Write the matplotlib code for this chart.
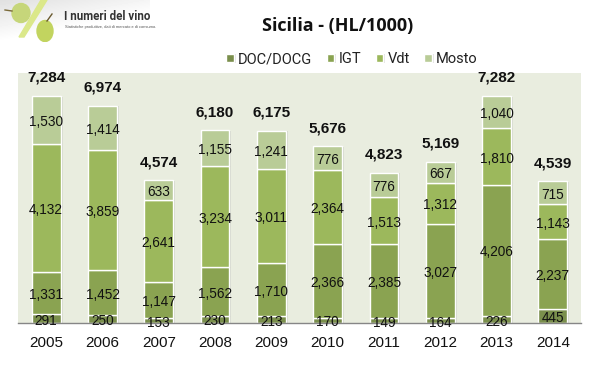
"""
Sicilia wine production by category, stacked bars with the logo header.
"""
import numpy as np
import matplotlib
matplotlib.use("Agg")
import matplotlib.pyplot as plt
import matplotlib.patheffects as pe
from matplotlib.patches import Ellipse, Polygon

years = ["2005", "2006", "2007", "2008", "2009", "2010", "2011", "2012", "2013", "2014"]
doc = [291, 250, 153, 230, 213, 170, 149, 164, 226, 445]
igt = [1331, 1452, 1147, 1562, 1710, 2366, 2385, 3027, 4206, 2237]
vdt = [4132, 3859, 2641, 3234, 3011, 2364, 1513, 1312, 1810, 1143]
mosto = [1530, 1414, 633, 1155, 1241, 776, 776, 667, 1040, 715]
totals = [7284, 6974, 4574, 6180, 6175, 5676, 4823, 5169, 7282, 4539]
series_names = ["DOC/DOCG", "IGT", "Vdt", "Mosto"]
colors = ["#7a8f4c", "#8aa351", "#9cb85c", "#b9cc97"]

W, H = 599, 379
plt.rcParams["font.family"] = ["Liberation Sans", "DejaVu Sans"]
fig = plt.figure(figsize=(W/100, H/100), dpi=100, facecolor="white")

## Plot area in pixels: x 18-581, y 73-323
ax = fig.add_axes([18/W, 1 - 323/H, 563/W, 250/H])
ax.set_facecolor("#e9eddf")
ax.set_xlim(-0.5, 9.5)
ax.set_ylim(0, 8020)
x = np.arange(len(years))

bottom = np.zeros(len(years))
for name, vals, col in zip(series_names, [doc, igt, vdt, mosto], colors):
    vals = np.array(vals)
    bars = ax.bar(x, vals, 0.51, bottom=bottom, color=col, edgecolor="white",
                  linewidth=1, label=name)
    for b in bars:
        b.set_path_effects([pe.withSimplePatchShadow(offset=(1.5, -0.5), alpha=0.2,
                                                     shadow_rgbFace="#777777")])
    for xi, v, b0 in zip(x, vals, bottom):
        ax.annotate(f"{v:,}", (xi, b0 + v/2), xytext=(0, -1.5), textcoords="offset points",
                    ha="center", va="center", fontsize=9.8, color="#111111", zorder=5,
                    annotation_clip=False)
    bottom = bottom + vals

for xi, b0, t in zip(x, bottom, totals):
    ax.annotate(f"{t:,}", (xi, b0), xytext=(0, 13), textcoords="offset points",
                ha="center", va="center", fontsize=11, fontweight="bold", color="#111111",
                zorder=5, annotation_clip=False)

for s in ["top", "left", "right"]:
    ax.spines[s].set_visible(False)
ax.spines["bottom"].set_color("#868686")
ax.spines["bottom"].set_linewidth(1)
ax.set_yticks([])
ax.set_xticks(x)
ax.set_xticklabels(years, fontsize=11, color="#111111")
ax.tick_params(axis="x", length=0, pad=9.5)

fig.text(338/W, 1 - 26/H, "Sicilia - (HL/1000)", ha="center", va="center",
         fontsize=13, fontweight="bold", family=["Open Sans", "DejaVu Sans"], color="#111111")

leg = ax.legend(loc="center", bbox_to_anchor=((352 - 18)/563, (323 - 59)/250), ncol=4,
                frameon=False, handlelength=0.5, handleheight=0.5,
                handletextpad=0.3, columnspacing=1.0, borderpad=0,
                prop={"family": ["Roboto", "DejaVu Sans"], "size": 10.5})
for t in leg.get_texts():
    t.set_color("#222222")

## Logo header, pixel coordinates with y going down
logo = fig.add_axes([0, 1 - 42/H, 150/W, 42/H])
grad = np.linspace(0.88, 1.0, 42).reshape(-1, 1) * np.ones((42, 150))
grad = np.minimum(1, grad + np.linspace(0, 0.08, 150))
logo.imshow(grad, cmap="gray", vmin=0, vmax=1, extent=(0, 150, 42, 0), aspect="auto")
logo.add_patch(Ellipse((21, 13), 18, 19, color="#c6d67a"))
logo.add_patch(Polygon([(41, 0), (47, 0), (24, 37), (19, 37)], color="#dbe88a"))
logo.add_patch(Ellipse((45, 31), 16, 21, color="#c2d45f"))
logo.plot([5, 12], [10, 11], color="#7a6a3a", lw=1)
logo.plot([47, 52], [21, 14], color="#6a5a30", lw=1)
logo.text(64, 16, "I numeri del vino", fontsize=8.3, va="center", color="#333333",
          family=["Roboto", "DejaVu Sans"], fontweight="bold")
logo.text(65, 27, "Statistiche produttive, dati di mercato e di consumo.", fontsize=2.9,
          va="center", color="#555555")
logo.set_xlim(0, 150)
logo.set_ylim(42, 0)
logo.axis("off")

fig.savefig("out.png", dpi=100)
